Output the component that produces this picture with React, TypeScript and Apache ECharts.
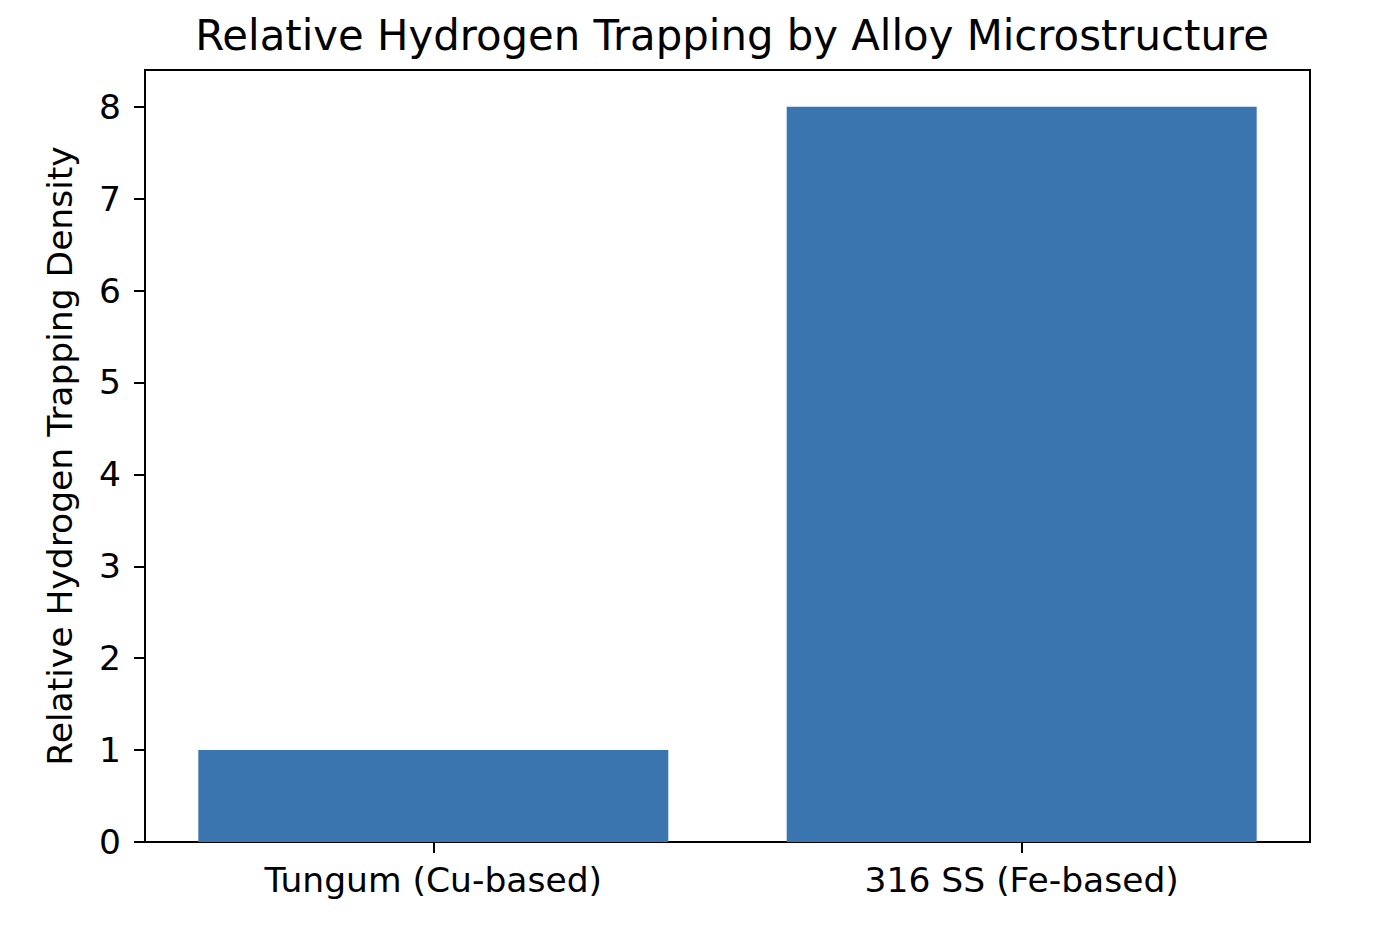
import React, { useEffect, useRef } from "react";
import * as echarts from "echarts";

const categories = ["Tungum (Cu-based)", "316 SS (Fe-based)"];
const values = [1, 8];
const yTicks = [0, 1, 2, 3, 4, 5, 6, 7, 8];
const xTicks = [0, 1];

export default function App() {
  const ref = useRef<HTMLDivElement>(null);
  useEffect(() => {
    document.body.style.margin = "0";
    const chart = echarts.init(ref.current!, null, { renderer: "svg" });
    const font = "DejaVu Sans";
    chart.setOption({
      animation: false,
      backgroundColor: "#ffffff",
      title: {
        text: "Relative Hydrogen Trapping by Alloy Microstructure",
        left: 727,
        textAlign: "center",
        top: 9,
        textStyle: { fontFamily: font, fontSize: 41.8, fontWeight: "normal", color: "#000" },
      },
      grid: {
        left: 145,
        right: 80,
        top: 70,
        bottom: 91,
        show: true,
        borderColor: "#000",
        borderWidth: 2,
        backgroundColor: "transparent",
      },
      xAxis: {
        type: "value",
        min: -0.49,
        max: 1.49,
        axisLine: { show: true, onZero: false, lineStyle: { color: "#000", width: 2 } },
        axisTick: { show: true, length: 11, lineStyle: { color: "#000", width: 2 }, customValues: xTicks },
        axisLabel: {
          fontFamily: font,
          fontSize: 34.5,
          color: "#000",
          margin: 20,
          customValues: xTicks,
          formatter: (v: number) => categories[Math.round(v)] ?? "",
        },
        splitLine: { show: false },
      },
      yAxis: {
        type: "value",
        min: 0,
        max: 8.4,
        interval: 1,
        name: "Relative Hydrogen Trapping Density",
        nameLocation: "middle",
        nameGap: 68,
        nameTextStyle: { fontFamily: font, fontSize: 34.5, color: "#000" },
        axisLine: { show: true, onZero: false, lineStyle: { color: "#000", width: 2 } },
        axisTick: { show: true, length: 11, lineStyle: { color: "#000", width: 2 }, customValues: yTicks },
        axisLabel: { fontFamily: font, fontSize: 34.5, color: "#000", margin: 24, customValues: yTicks },
        splitLine: { show: false },
      },
      series: [
        {
          type: "bar",
          data: values.map((v, i) => [i, v]),
          barWidth: 470,
          itemStyle: { color: "#3b75af" },
        },
      ],
    });
    return () => chart.dispose();
  }, []);
  return <div ref={ref} style={{ position: "absolute", left: 0, top: 0, width: 1390, height: 933 }} />;
}
